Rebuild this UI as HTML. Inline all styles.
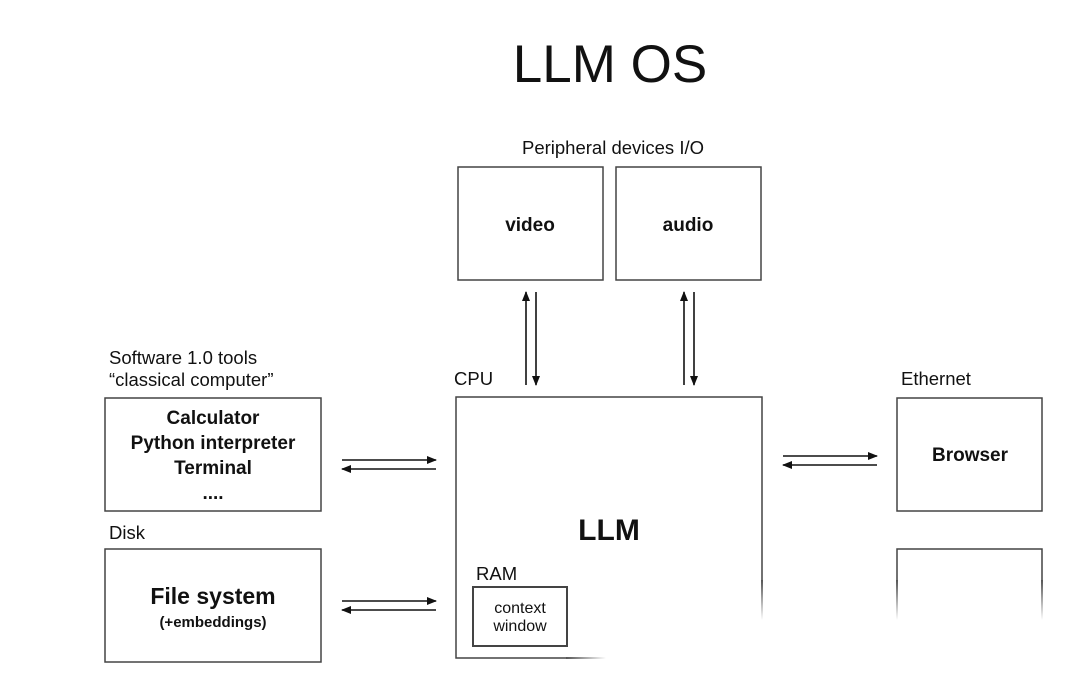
<!DOCTYPE html>
<html><head><meta charset="utf-8"><style>
html,body{margin:0;padding:0;background:#fff;width:1080px;height:683px;overflow:hidden}
svg{display:block}
text{font-family:"Liberation Sans",Arial,sans-serif;fill:#111}
</style></head><body>
<svg width="1080" height="683" viewBox="0 0 1080 683" xmlns="http://www.w3.org/2000/svg">
<defs>
<marker id="a" markerWidth="10" markerHeight="8" refX="9" refY="4" orient="auto" markerUnits="userSpaceOnUse">
<path d="M0,0 L10,4 L0,8 Z" fill="#111"/></marker>
<linearGradient id="fv" x1="0" y1="0" x2="0" y2="1"><stop offset="0" stop-color="#555"/><stop offset="1" stop-color="#555" stop-opacity="0"/></linearGradient>
<linearGradient id="fh" x1="0" y1="0" x2="1" y2="0"><stop offset="0" stop-color="#555"/><stop offset="1" stop-color="#555" stop-opacity="0"/></linearGradient>
</defs>
<text x="610" y="82" font-size="53" text-anchor="middle">LLM OS</text>
<text x="613" y="154" font-size="18.5" text-anchor="middle">Peripheral devices I/O</text>
<g fill="none" stroke="#444" stroke-width="1.5">
<rect x="458" y="167" width="145" height="113"/>
<rect x="616" y="167" width="145" height="113"/>
<rect x="105" y="398" width="216" height="113"/>
<rect x="105" y="549" width="216" height="113"/>
<rect x="897" y="398" width="145" height="113"/>
<rect x="473" y="587" width="94" height="59" stroke-width="2"/>
<path d="M456,580 V397 H762 V580"/>
<path d="M456,580 V658 H566"/>
<path d="M897,580 V549 H1042 V580"/>
</g>
<rect x="761" y="580" width="2" height="40" fill="url(#fv)"/>
<rect x="896" y="580" width="2" height="40" fill="url(#fv)"/>
<rect x="1041" y="580" width="2" height="40" fill="url(#fv)"/>
<rect x="566" y="657" width="40" height="2" fill="url(#fh)"/>
<g stroke="#111" stroke-width="1.6" marker-end="url(#a)">
<line x1="342" y1="460" x2="436" y2="460"/>
<line x1="436" y1="469" x2="342" y2="469"/>
<line x1="342" y1="601" x2="436" y2="601"/>
<line x1="436" y1="610" x2="342" y2="610"/>
<line x1="783" y1="456" x2="877" y2="456"/>
<line x1="877" y1="465" x2="783" y2="465"/>
<line x1="526" y1="385" x2="526" y2="292"/>
<line x1="536" y1="292" x2="536" y2="385"/>
<line x1="684" y1="385" x2="684" y2="292"/>
<line x1="694" y1="292" x2="694" y2="385"/>
</g>
<text x="530" y="231" font-size="19" font-weight="bold" text-anchor="middle">video</text>
<text x="688" y="231" font-size="19" font-weight="bold" text-anchor="middle">audio</text>
<text x="109" y="364" font-size="18.5">Software 1.0 tools</text>
<text x="109" y="386" font-size="18.5">“classical computer”</text>
<text x="454" y="385" font-size="18.5">CPU</text>
<text x="901" y="385" font-size="18.5">Ethernet</text>
<text x="213" y="424" font-size="19" font-weight="bold" text-anchor="middle">Calculator</text>
<text x="213" y="449" font-size="19" font-weight="bold" text-anchor="middle">Python interpreter</text>
<text x="213" y="474" font-size="19" font-weight="bold" text-anchor="middle">Terminal</text>
<text x="213" y="499" font-size="19" font-weight="bold" text-anchor="middle">....</text>
<text x="109" y="539" font-size="18.5">Disk</text>
<text x="213" y="604" font-size="23" font-weight="bold" text-anchor="middle">File system</text>
<text x="213" y="627" font-size="15" font-weight="bold" text-anchor="middle">(+embeddings)</text>
<text x="970" y="461" font-size="19" font-weight="bold" text-anchor="middle">Browser</text>
<text x="609" y="540" font-size="30" font-weight="bold" text-anchor="middle">LLM</text>
<text x="476" y="580" font-size="18.5">RAM</text>
<text x="520" y="613" font-size="16" text-anchor="middle">context</text>
<text x="520" y="631" font-size="16" text-anchor="middle">window</text>
</svg>
</body></html>
